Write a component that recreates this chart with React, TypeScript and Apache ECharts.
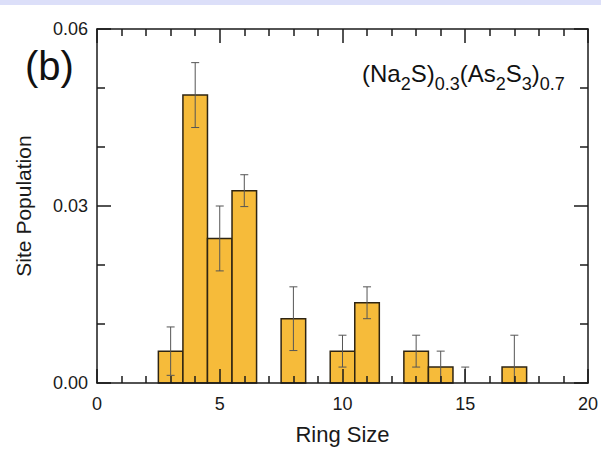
import React, { useEffect, useRef } from "react";
import * as echarts from "echarts";

const ringSizes = [3, 4, 5, 6, 8, 10, 11, 13, 14, 15, 17];
const populations = [0.0054, 0.0488, 0.0245, 0.0326, 0.0109, 0.0054, 0.0136, 0.0054, 0.0027, 0, 0.0027];
const errors = [0.0041, 0.0055, 0.0055, 0.0027, 0.0054, 0.0027, 0.0027, 0.0027, 0.0027, 0.0027, 0.0054];
const xTicks = [0, 5, 10, 15, 20];
const yTicks = [0, 0.03, 0.06];

const FONT = "Liberation Sans, Arial, sans-serif";

export default function App() {
  const ref = useRef<HTMLDivElement>(null);
  useEffect(() => {
    if (!ref.current) return;
    const chart = echarts.init(ref.current, null, { renderer: "svg" });
    const barData = ringSizes.map((x, i) => [x, populations[i]]);
    const errData = ringSizes.map((x, i) => [x, populations[i], errors[i]]);
    const axisColor = "#1a1a1a";
    const commonX = {
      type: "value",
      min: xTicks[0],
      max: xTicks[xTicks.length - 1],
      interval: 5,
      z: 5,
      axisLine: { show: true, onZero: false, lineStyle: { color: axisColor, width: 1.5 } },
      axisTick: { show: true, inside: true, length: 14, lineStyle: { color: axisColor, width: 1.5 } },
      minorTick: { show: true, splitNumber: 5, length: 7, lineStyle: { color: axisColor, width: 1.5 } },
      splitLine: { show: false },
    };
    const commonY = {
      type: "value",
      min: yTicks[0],
      max: yTicks[yTicks.length - 1],
      interval: 0.03,
      z: 5,
      axisLine: { show: true, onZero: false, lineStyle: { color: axisColor, width: 1.5 } },
      axisTick: { show: true, inside: true, length: 14, lineStyle: { color: axisColor, width: 1.5 } },
      minorTick: { show: true, splitNumber: 3, length: 8, lineStyle: { color: axisColor, width: 1.5 } },
      splitLine: { show: false },
    };
    chart.setOption({
      animation: false,
      backgroundColor: "#ffffff",
      grid: { left: 97, right: 10, top: 29, bottom: 58 },
      xAxis: [
        {
          ...commonX,
          position: "bottom",
          name: "Ring Size",
          nameLocation: "middle",
          nameGap: 40,
          nameTextStyle: { fontFamily: FONT, fontSize: 22, color: "#1a1a1a" },
          axisLabel: { fontFamily: FONT, fontSize: 18, color: "#1a1a1a", margin: 12 },
        },
        { ...commonX, position: "top", axisLabel: { show: false } },
      ],
      yAxis: [
        {
          ...commonY,
          position: "left",
          name: "Site Population",
          nameLocation: "middle",
          nameGap: 63,
          nameTextStyle: { fontFamily: FONT, fontSize: 21, color: "#1a1a1a" },
          axisLabel: {
            fontFamily: FONT,
            fontSize: 18,
            color: "#1a1a1a",
            margin: 9,
            formatter: (v: number) => v.toFixed(2),
          },
        },
        { ...commonY, position: "right", axisLabel: { show: false } },
      ],
      series: [
        {
          type: "custom",
          z: 2,
          data: barData,
          renderItem: (params: any, api: any) => {
            const x = api.value(0);
            const y = api.value(1);
            if (!(y > 0)) return null;
            const p1 = api.coord([x - 0.5, y]);
            const p2 = api.coord([x + 0.5, 0]);
            return {
              type: "rect",
              shape: { x: p1[0], y: p1[1], width: p2[0] - p1[0], height: p2[1] - p1[1] },
              style: { fill: "#f6bb3a", stroke: "#2e2412", lineWidth: 1.5 },
            };
          },
        },
        {
          type: "custom",
          z: 3,
          data: errData,
          renderItem: (params: any, api: any) => {
            const x = api.value(0);
            const y = api.value(1);
            const e = api.value(2);
            const hi = api.coord([x, y + e]);
            const loV = Math.max(0, y - e);
            const lo = api.coord([x, loV]);
            const cw = 4;
            const style = { stroke: "#555555", lineWidth: 1 };
            const children: any[] = [
              { type: "line", shape: { x1: hi[0], y1: hi[1], x2: lo[0], y2: lo[1] }, style },
              { type: "line", shape: { x1: hi[0] - cw, y1: hi[1], x2: hi[0] + cw, y2: hi[1] }, style },
            ];
            if (y - e > 0) {
              children.push({ type: "line", shape: { x1: lo[0] - cw, y1: lo[1], x2: lo[0] + cw, y2: lo[1] }, style });
            }
            return { type: "group", children };
          },
        },
      ],
      graphic: [
        {
          type: "rect",
          left: 0,
          top: 0,
          shape: { width: 601, height: 5 },
          style: { fill: "#dcdff9" },
          silent: true,
        },
        {
          type: "text",
          left: 25,
          top: 46,
          style: { text: "(b)", fontFamily: FONT, fontSize: 40, fill: "#111111" },
        },
        {
          type: "text",
          left: 362,
          top: 61,
          style: {
            text: "{m|(Na}{s|2}{m|S)}{s|0.3}{m|(As}{s|2}{m|S}{s|3}{m|)}{s|0.7}",
            rich: {
              m: { fontFamily: FONT, fontSize: 24, lineHeight: 25, verticalAlign: "top", fill: "#111111" },
              s: {
                fontFamily: FONT,
                fontSize: 18,
                lineHeight: 19,
                padding: [14, 0, 0, 0],
                verticalAlign: "top",
                fill: "#111111",
              },
            },
          },
        },
      ],
    });
    return () => chart.dispose();
  }, []);
  return (
    <div
      ref={ref}
      style={{ position: "fixed", left: 0, top: 0, width: 601, height: 450 }}
    />
  );
}
